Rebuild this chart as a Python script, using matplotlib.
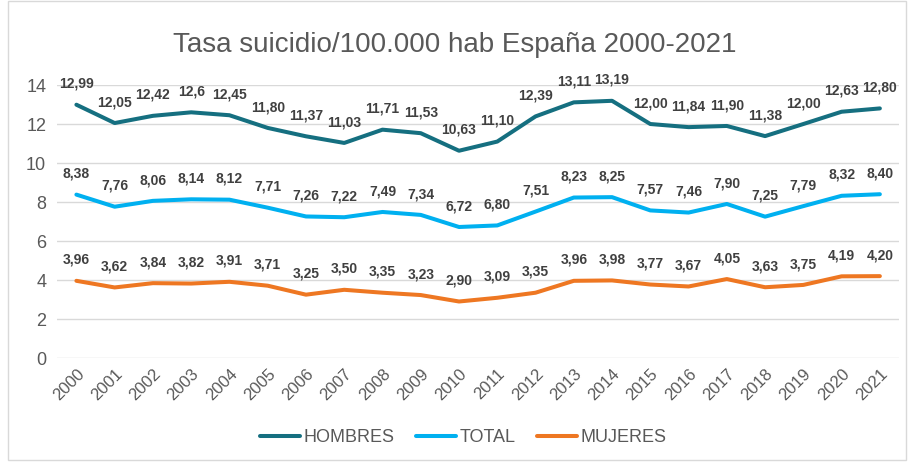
import matplotlib.pyplot as plt
from matplotlib.patches import Rectangle

plt.rcParams["font.family"] = ["Liberation Sans", "DejaVu Sans"]

years = [str(y) for y in range(2000, 2022)]
hombres = [12.99, 12.05, 12.42, 12.6, 12.45, 11.80, 11.37, 11.03, 11.71, 11.53, 10.63,
           11.10, 12.39, 13.11, 13.19, 12.00, 11.84, 11.90, 11.38, 12.00, 12.63, 12.80]
total = [8.38, 7.76, 8.06, 8.14, 8.12, 7.71, 7.26, 7.22, 7.49, 7.34, 6.72,
         6.80, 7.51, 8.23, 8.25, 7.57, 7.46, 7.90, 7.25, 7.79, 8.32, 8.40]
mujeres = [3.96, 3.62, 3.84, 3.82, 3.91, 3.71, 3.25, 3.50, 3.35, 3.23, 2.90,
           3.09, 3.35, 3.96, 3.98, 3.77, 3.67, 4.05, 3.63, 3.75, 4.19, 4.20]
# 12,6 is shown without the trailing zero in the original labels
hombres_labels = ["12,99", "12,05", "12,42", "12,6", "12,45", "11,80", "11,37", "11,03",
                  "11,71", "11,53", "10,63", "11,10", "12,39", "13,11", "13,19", "12,00",
                  "11,84", "11,90", "11,38", "12,00", "12,63", "12,80"]

series = [
    ("HOMBRES", hombres, "#156F80", hombres_labels),
    ("TOTAL", total, "#00B0F0", None),
    ("MUJERES", mujeres, "#EE7722", None),
]

fig = plt.figure(figsize=(9.09, 4.62), dpi=100)
fig.patches.append(Rectangle((0.009, 0.004), 0.988, 0.994, transform=fig.transFigure,
                             fill=False, edgecolor="#D9D9D9", linewidth=1))
ax = fig.add_axes([0.063, 0.225, 0.926, 0.591])

x = list(range(len(years)))
for name, vals, color, labels in series:
    ax.plot(x, vals, color=color, linewidth=2.9, label=name, solid_capstyle="round")
    if labels is None:
        labels = [f"{v:.2f}".replace(".", ",") for v in vals]
    for xi, v, lab in zip(x, vals, labels):
        ax.annotate(lab, (xi, v), xytext=(0, 15), textcoords="offset points",
                    ha="center", va="center", fontsize=10, fontweight="bold",
                    color="#404040")

ax.set_xlim(-0.5, len(years) - 0.5)
ax.set_ylim(0, 14)
ax.set_yticks(range(0, 15, 2))
ax.set_xticks(x)
ax.set_xticklabels(years, rotation=45, ha="right", rotation_mode="anchor")
ax.tick_params(axis="both", length=0, colors="#595959")
ax.tick_params(axis="y", labelsize=13, pad=8)
ax.tick_params(axis="x", labelsize=12, pad=6)
ax.grid(axis="y", color="#D9D9D9", linewidth=1)
ax.set_axisbelow(True)
for s in ax.spines.values():
    s.set_visible(False)

fig.suptitle("Tasa suicidio/100.000 hab España 2000-2021", y=0.903, va="center",
             fontsize=20, color="#595959")
fig.legend(loc="center", bbox_to_anchor=(0.51, 0.052), ncol=3, frameon=False,
           fontsize=13, labelcolor="#595959", handlelength=2.2, columnspacing=1.2,
           handletextpad=0.2)

fig.savefig("out.png", dpi=100)
